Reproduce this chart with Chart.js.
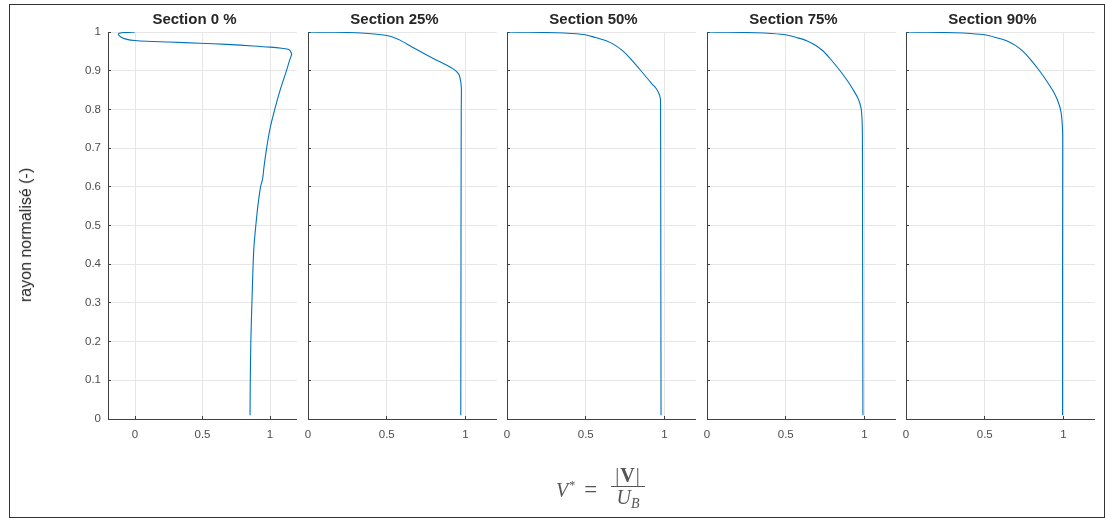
<!DOCTYPE html>
<html>
<head>
<meta charset="utf-8">
<script src="https://cdn.jsdelivr.net/npm/chart.js@4.4.1/dist/chart.umd.min.js"></script>
<style>
  html, body { margin: 0; padding: 0; background: #fff; }
  body { width: 1105px; height: 519px; position: relative; overflow: hidden; font-family: "Liberation Sans", Arial, sans-serif; }
  .frame { position: absolute; left: 9px; top: 4px; width: 1094px; height: 512px; border: 1px solid #333; }
  canvas { position: absolute; top: 0; }
  #ylabel { position: absolute; left: 26px; top: 235px; transform: translate(-50%, -50%) rotate(-90deg); font-size: 16px; color: #262626; white-space: nowrap; }
  #xlabel { position: absolute; left: 556px; top: 466px; font-family: "Liberation Serif", "DejaVu Serif", serif; font-size: 20px; color: #555; display: flex; align-items: center; white-space: nowrap; }
  #xlabel .eq { margin-left: 9px; font-size: 23px; }
  #xlabel sup { font-size: 12px; vertical-align: 8px; margin-left: 1px; }
  #xlabel .frac { display: inline-flex; flex-direction: column; align-items: center; margin-left: 14px; }
  #xlabel .num { border-bottom: 1px solid #555; padding: 0 4px 1px; line-height: 19px; letter-spacing: 1px; }
  #xlabel .den { line-height: 21px; }
  #xlabel sub { font-size: 14px; font-style: italic; vertical-align: -4px; }
</style>
</head>
<body>
<div class="frame"></div>
<canvas id="c0" width="287" height="519" style="left:10px"></canvas>
<canvas id="c1" width="209" height="519" style="left:288px"></canvas>
<canvas id="c2" width="209" height="519" style="left:487px"></canvas>
<canvas id="c3" width="209" height="519" style="left:687px"></canvas>
<canvas id="c4" width="209" height="519" style="left:886px"></canvas>
<div id="ylabel">rayon normalisé (-)</div>
<div id="xlabel"><span><i>V</i><sup>*</sup></span><span class="eq">=</span><span class="frac"><span class="num">|<b>V</b>|</span><span class="den"><i>U</i><sub>B</sub></span></span></div>

<script>
// titres des sous-graphes
const sectionTitles = ['Section 0 %', 'Section 25%', 'Section 50%', 'Section 75%', 'Section 90%'];
const xTickValues = [0, 0.5, 1];

// section 0 % : rayon normalisé et vitesse adimensionnelle
const r0 = [0.01, 0.1, 0.2, 0.3, 0.4, 0.45, 0.5, 0.55, 0.6, 0.62, 0.65, 0.7, 0.75, 0.8, 0.85, 0.9, 0.93, 0.942, 0.948, 0.955, 0.958, 0.961, 0.964, 0.968, 0.971, 0.974, 0.976, 0.978, 0.981, 0.985, 0.99, 0.995, 0.998, 0.999, 1.0];
const v0 = [0.852, 0.854, 0.858, 0.866, 0.875, 0.882, 0.895, 0.91, 0.93, 0.945, 0.955, 0.975, 1.0, 1.035, 1.075, 1.122, 1.148, 1.16, 1.155, 1.14, 1.087, 1.0, 0.876, 0.68, 0.48, 0.25, 0.087, 0.0, -0.06, -0.095, -0.115, -0.124, -0.1, -0.05, 0.0];

// section 25 %
const r25 = [0.01, 0.3, 0.6, 0.8, 0.845, 0.859, 0.876, 0.889, 0.897, 0.904, 0.914, 0.929, 0.945, 0.962, 0.979, 0.986, 0.991, 0.995, 0.998, 0.9995, 1.0];
const v25 = [0.970, 0.971, 0.972, 0.973, 0.974, 0.973, 0.968, 0.96, 0.945, 0.924, 0.882, 0.807, 0.733, 0.658, 0.584, 0.545, 0.5, 0.42, 0.308, 0.127, 0.0];

// section 50 %
const r50 = [0.01, 0.3, 0.6, 0.8, 0.8165, 0.8295, 0.8416, 0.854, 0.8643, 0.8734, 0.9044, 0.9341, 0.9517, 0.9667, 0.9775, 0.9858, 0.9922, 0.996, 0.998, 0.9995, 1.0];
const v50 = [0.978, 0.977, 0.976, 0.975, 0.975, 0.973, 0.964, 0.947, 0.924, 0.905, 0.841, 0.778, 0.733, 0.683, 0.63, 0.562, 0.503, 0.41, 0.31, 0.13, 0.0];

// section 75 %
const r75 = [0.01, 0.4, 0.7, 0.752, 0.7778, 0.7984, 0.8152, 0.8307, 0.8501, 0.8721, 0.9005, 0.9315, 0.9509, 0.9664, 0.9775, 0.9858, 0.9922, 0.996, 0.998, 0.9995, 1.0];
const v75 = [0.99, 0.988, 0.987, 0.986, 0.984, 0.98, 0.971, 0.956, 0.929, 0.895, 0.844, 0.781, 0.737, 0.686, 0.633, 0.567, 0.505, 0.41, 0.31, 0.13, 0.0];

// section 90 %
const r90 = [0.01, 0.4, 0.708, 0.7468, 0.7726, 0.7933, 0.814, 0.8385, 0.8605, 0.8979, 0.9307, 0.9501, 0.9661, 0.9775, 0.9858, 0.9922, 0.996, 0.998, 0.9995, 1.0];
const v90 = [0.994, 0.994, 0.995, 0.994, 0.99, 0.984, 0.971, 0.946, 0.914, 0.851, 0.787, 0.743, 0.692, 0.639, 0.571, 0.506, 0.41, 0.31, 0.13, 0.0];

const sections = [
  { v: v0, r: r0, xMin: -0.2 },
  { v: v25, r: r25, xMin: 0 },
  { v: v50, r: r50, xMin: 0 },
  { v: v75, r: r75, xMin: 0 },
  { v: v90, r: r90, xMin: 0 }
];

const FONT = '"Liberation Sans", Arial, sans-serif';
const AXIS = '#404040';
const GRID = '#e6e6e6';
const TICK_TXT = '#4d4d4d';
const BLUE = '#0072BD';

function fmtTick(v) { return String(+v.toFixed(1)); }

// titre en gras au-dessus de chaque zone de tracé
const sectionTitle = {
  id: 'sectionTitle',
  afterDraw(chart, args, opts) {
    const ca = chart.chartArea, ctx = chart.ctx;
    ctx.save();
    ctx.font = 'bold 15px ' + FONT;
    ctx.fillStyle = '#262626';
    ctx.textAlign = 'center';
    ctx.textBaseline = 'middle';
    ctx.fillText(opts.text, (ca.left + ca.right) / 2 - 8, 20);
    ctx.restore();
  }
};

sections.forEach(function(s, i) {
  const first = i === 0;
  const yWidth = first ? 98 : 20;
  const pts = s.v.map(function(x, k) { return { x: x, y: s.r[k] }; });
  new Chart(document.getElementById('c' + i), {
    type: 'scatter',
    data: {
      datasets: [{ data: pts, showLine: true, borderColor: BLUE, borderWidth: 1.1, pointRadius: 0, fill: false, tension: 0.3 }]
    },
    plugins: [sectionTitle],
    options: {
      responsive: false, animation: false, events: [],
      layout: { padding: { top: 32 } },
      plugins: {
        legend: { display: false },
        tooltip: { enabled: false },
        sectionTitle: { text: sectionTitles[i] }
      },
      scales: {
        x: {
          type: 'linear', min: s.xMin, max: 1.2,
          afterBuildTicks: function(sc) { sc.ticks = xTickValues.map(function(v) { return { value: v }; }); },
          afterFit: function(sc) { sc.height = 100; },
          ticks: { color: TICK_TXT, font: { family: FONT, size: 11.5 }, padding: 12, maxRotation: 0, callback: fmtTick },
          grid: { color: GRID, tickColor: AXIS, tickLength: -3, lineWidth: 1 },
          border: { color: AXIS, width: 1 }
        },
        y: {
          type: 'linear', min: 0, max: 1,
          afterFit: function(sc) { sc.width = yWidth; },
          ticks: { display: first, stepSize: 0.1, color: TICK_TXT, font: { family: FONT, size: 11.5 }, padding: 10, callback: fmtTick },
          grid: { color: GRID, tickColor: AXIS, tickLength: -3, lineWidth: 1 },
          border: { color: AXIS, width: 1 }
        }
      }
    }
  });
});
</script>
</body>
</html>
